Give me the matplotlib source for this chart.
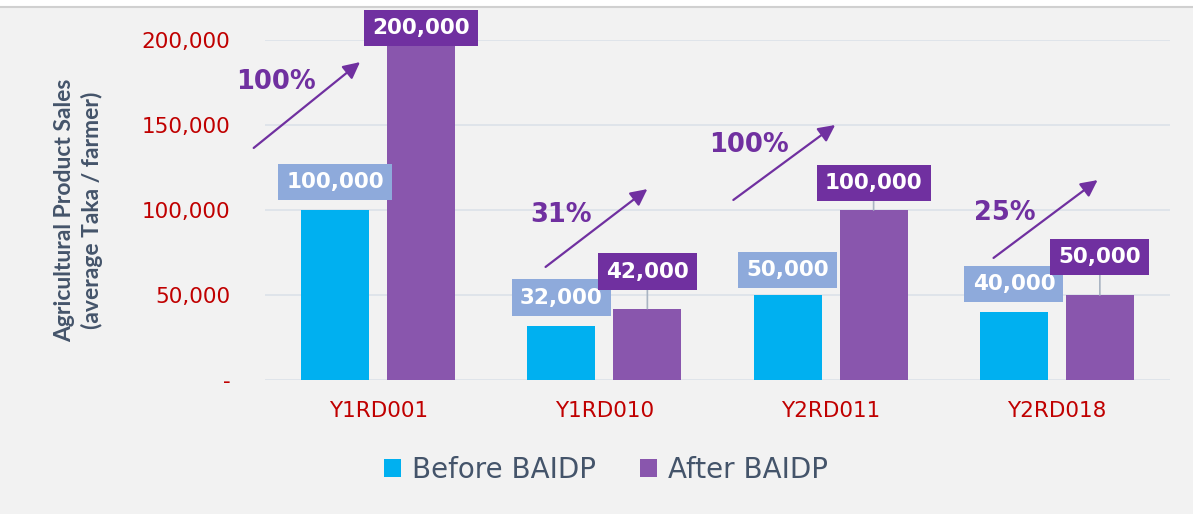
import matplotlib
matplotlib.use("Agg")
import matplotlib.pyplot as plt
import numpy as np

# ---- data ----
categories = ["Y1RD001", "Y1RD010", "Y2RD011", "Y2RD018"]
before = [100000, 32000, 50000, 40000]
after = [200000, 42000, 100000, 50000]
pct_labels = ["100%", "31%", "100%", "25%"]
series_names = ["Before BAIDP", "After BAIDP"]
yticks = [0, 50000, 100000, 150000, 200000]
ytick_labels = ["-", "50,000", "100,000", "150,000", "200,000"]

# ---- style ----
BG = "#f2f2f2"
BLUE = "#00b0f0"
PURPLE = "#8956ad"
BLUE_BOX = "#8eaadb"
PURPLE_BOX = "#7030a0"
RED = "#c00000"
AXIS_TXT = "#44546a"

fig = plt.figure(figsize=(11.93, 5.14), dpi=100, facecolor=BG)
# white strip on top
fig.patches.append(plt.Rectangle((0, 1 - 6/514), 1, 6/514, transform=fig.transFigure,
                                 facecolor="white", edgecolor="none", zorder=-1))
fig.lines.append(plt.Line2D([0, 1], [1 - 7/514, 1 - 7/514], transform=fig.transFigure,
                            color="#d0d0d0", lw=1.5))

ax = fig.add_axes([265/1193, 1 - 380/514, 905/1193, 340/514])
ax.set_facecolor(BG)

x = np.arange(len(categories))
w = 0.30
off = 0.19
ax.bar(x - off, before, w, color=BLUE, label=series_names[0], zorder=3)
ax.bar(x + off, after, w, color=PURPLE, label=series_names[1], zorder=3)

ax.set_xlim(-0.5, 3.5)
ax.set_ylim(0, 200000)
ax.set_yticks(yticks)
ax.set_yticklabels(ytick_labels, color=RED, fontsize=15.5)
ax.set_xticks(x)
ax.set_xticklabels(categories, color=RED, fontsize=15.5)
ax.tick_params(axis="both", length=0)
ax.tick_params(axis="y", pad=25)
ax.tick_params(axis="x", pad=15)
ax.grid(axis="y", color="#dde3ea", lw=1.3, zorder=0)
for s in ax.spines.values():
    s.set_visible(False)

ax.set_ylabel("Agricultural Product Sales\n(average Taka / farmer)",
              family=["Lato", "DejaVu Sans"], fontweight="bold",
              fontsize=16.5, color=AXIS_TXT, labelpad=28, linespacing=1.3)

# data labels (offset in px above bar top)
before_off = [28, 28, 25, 28]
after_off = [12, 37, 27, 38]

def fmt(v):
    return f"{v:,}"

for i in range(len(categories)):
    ax.annotate(fmt(before[i]), (x[i] - off, before[i]), xytext=(0, before_off[i] * 0.72),
                textcoords="offset points", ha="center", va="center",
                fontsize=15.5, fontweight="bold", color="white", zorder=6,
                bbox=dict(boxstyle="square,pad=0.38", fc=BLUE_BOX, ec="none"),
                annotation_clip=False)
    ax.annotate(fmt(after[i]), (x[i] + off, after[i]), xytext=(0, after_off[i] * 0.72),
                textcoords="offset points", ha="center", va="center",
                fontsize=15.5, fontweight="bold", color="white", zorder=6,
                bbox=dict(boxstyle="square,pad=0.38", fc=PURPLE_BOX, ec="none"),
                arrowprops=dict(arrowstyle="-", color="#a9b4c2", lw=1.2, shrinkA=0, shrinkB=0),
                annotation_clip=False)

# growth arrows: (start dx, start y, end dx, end y, text dx, text y) relative to category
arrow_geo = [(-0.55, 136500, -0.08, 187000, -0.45, 175300),
             (-0.26, 66500, 0.19, 112300, -0.19, 97000),
             (-0.43, 105900, 0.02, 150000, -0.36, 138200),
             (-0.28, 71800, 0.18, 117600, -0.23, 98200)]
for i, (sx, sy, ex, ey, tx, ty) in enumerate(arrow_geo):
    ax.annotate("", xy=(x[i] + ex, ey), xytext=(x[i] + sx, sy),
                arrowprops=dict(arrowstyle="-|>,head_length=1.0,head_width=0.5",
                                color=PURPLE_BOX, lw=1.6, shrinkA=0, shrinkB=0),
                annotation_clip=False, zorder=5)
    ax.text(x[i] + tx, ty, pct_labels[i], ha="center", va="center", fontsize=18.5,
            fontweight="bold", color=PURPLE_BOX, zorder=5)

leg = fig.legend(loc="center", bbox_to_anchor=(0.508, 1 - 470/514), ncol=2, frameon=False,
                 fontsize=20, handlelength=0.6, handleheight=0.6, handletextpad=0.4,
                 columnspacing=1.6)
for t in leg.get_texts():
    t.set_color(AXIS_TXT)

fig.savefig("out.png", dpi=100, facecolor=BG)
